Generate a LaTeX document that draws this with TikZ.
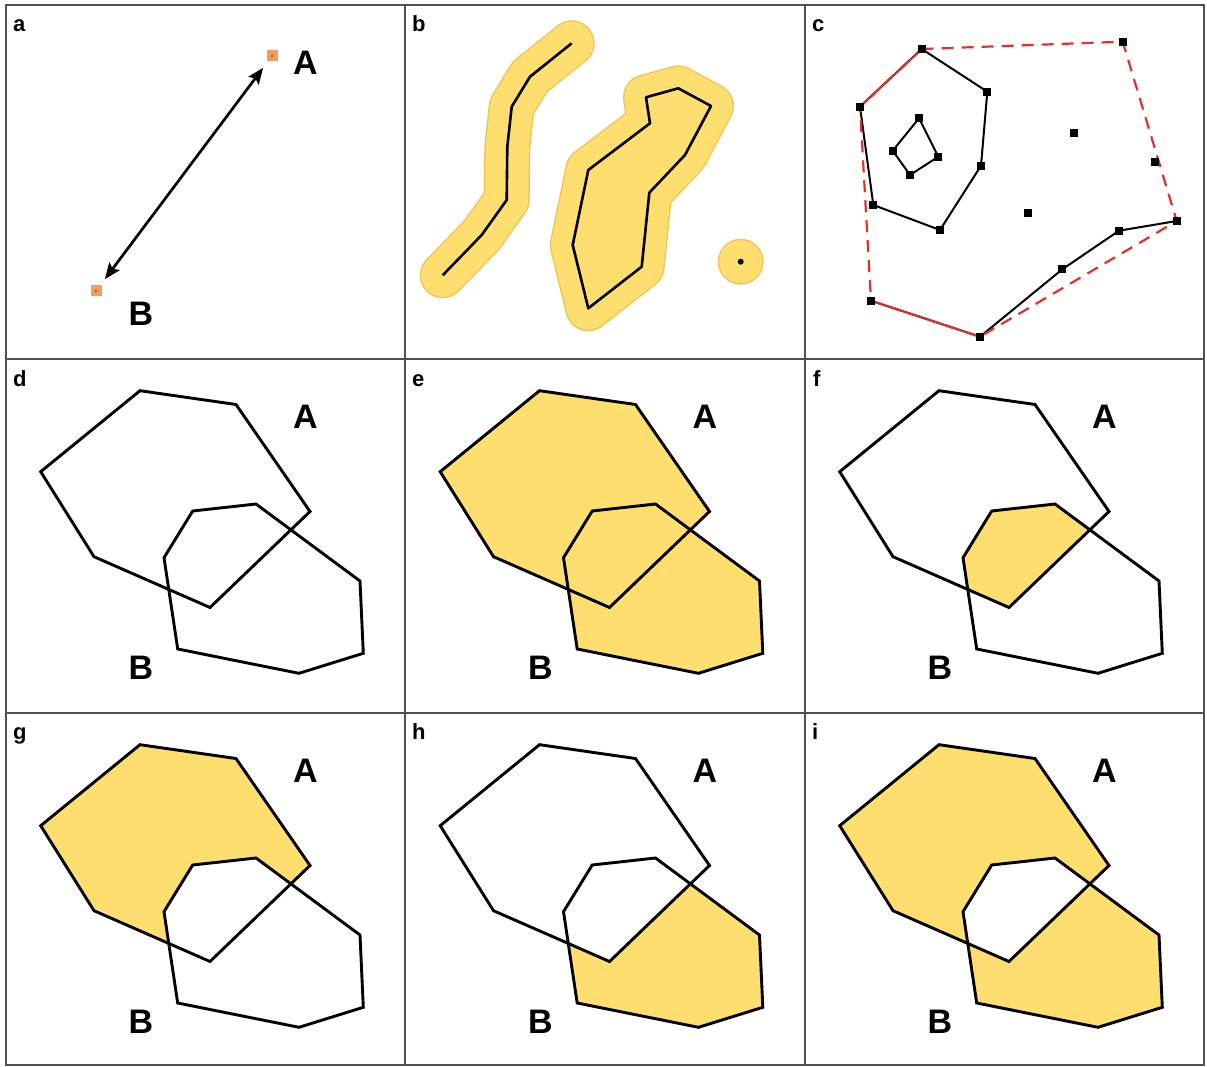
\documentclass[tikz,border=0pt]{standalone}
\usepackage{fontspec}
\setmainfont{Liberation Sans}
\usetikzlibrary{arrows.meta}
\definecolor{ylw}{RGB}{254,222,110}
\definecolor{ylwedge}{RGB}{238,198,92}
\definecolor{gridc}{RGB}{80,80,80}
\definecolor{orng}{RGB}{244,155,95}
\definecolor{orngc}{RGB}{205,75,35}
\definecolor{hullred}{RGB}{226,48,42}
\begin{document}
\begin{tikzpicture}[x=1pt,y=-1pt,
  plbl/.style={font=\fontsize{22}{24}\selectfont\bfseries, anchor=base west, inner sep=0pt},
  biglbl/.style={font=\fontsize{34}{36}\selectfont\bfseries, anchor=base, inner sep=0pt},
  poly/.style={draw=black, line width=2.9pt, line join=miter},
  polyA/.style={insert path={(140,36.7) -- (236,50.5) -- (310,157.5) -- (210,253.5) -- (94,202.7) -- (40.7,117.7) -- cycle}},
  polyB/.style={insert path={(192.7,157) -- (256,150) -- (360,227) -- (363.3,299.3) -- (299,319.3) -- (177.7,295) -- (164,203.7) -- cycle}},
  gridline/.style={draw=gridc, line width=2.4pt},
  osq/.style={fill=orng, minimum size=11pt, inner sep=0pt, outer sep=0pt, shape=rectangle},
  bsq/.style={fill=black, minimum size=8pt, inner sep=0pt, shape=rectangle},
  bufedge/.style={draw=ylwedge, line width=46pt, line cap=round, line join=round},
  buf/.style={draw=ylw, line width=43pt, line cap=round, line join=round},
  thinl/.style={draw=black, line width=2pt, line join=round},
  hull/.style={draw=hullred, line width=2.2pt, dash pattern=on 12pt off 8pt}
]
\useasboundingbox (0,0) rectangle (1207,1067);
\fill[white] (0,0) rectangle (1207,1067);

% ---------- panel a ----------
\node[osq] (pa) at (272,56) {};
\node[osq] (pb) at (96,291) {};
\fill[orngc] (pa.center) circle[radius=1.4pt];
\fill[orngc] (pb.center) circle[radius=1.4pt];
\draw[line width=2.7pt, {Stealth[length=16pt,width=13pt,inset=3pt]}-{Stealth[length=16pt,width=13pt,inset=3pt]}, shorten <=8pt, shorten >=8pt] (pa) -- (pb);
\node[biglbl] (aA) at (305.5,74.5) {A};
\node[biglbl] (aB) at (141,325) {B};

% ---------- panel b ----------
\coordinate (b1) at (442.7,275.3);
\coordinate (b2) at (481.7,235);
\coordinate (b3) at (506.7,200);
\coordinate (b4) at (507.3,146.7);
\coordinate (b5) at (511.7,106.7);
\coordinate (b6) at (530,76.7);
\coordinate (b7) at (571.7,43.3);
\coordinate (q1) at (588.3,170);
\coordinate (q2) at (650,123.3);
\coordinate (q3) at (646,97.3);
\coordinate (q4) at (678.3,88.3);
\coordinate (q5) at (711,106);
\coordinate (q6) at (685,155);
\coordinate (q7) at (649.3,192.7);
\coordinate (q8) at (641.7,266.7);
\coordinate (q9) at (588.3,308.3);
\coordinate (q10) at (572.7,245);
\coordinate (bp) at (740.7,261.7);
\draw[bufedge] (b1) -- (b2) -- (b3) -- (b4) -- (b5) -- (b6) -- (b7);
\draw[buf] (b1) -- (b2) -- (b3) -- (b4) -- (b5) -- (b6) -- (b7);
\draw[line width=2.6pt, line join=round] (b1) -- (b2) -- (b3) -- (b4) -- (b5) -- (b6) -- (b7);
\draw[bufedge] (q1) -- (q2) -- (q3) -- (q4) -- (q5) -- (q6) -- (q7) -- (q8) -- (q9) -- (q10) -- cycle;
\draw[buf, fill=ylw] (q1) -- (q2) -- (q3) -- (q4) -- (q5) -- (q6) -- (q7) -- (q8) -- (q9) -- (q10) -- cycle;
\draw[line width=2.6pt, line join=round] (q1) -- (q2) -- (q3) -- (q4) -- (q5) -- (q6) -- (q7) -- (q8) -- (q9) -- (q10) -- cycle;
\fill[ylwedge] (bp) circle[radius=23pt];
\fill[ylw] (bp) circle[radius=21.5pt];
\fill[black] (bp) circle[radius=3pt];

% ---------- panel c ----------
\coordinate (c1) at (921.7,49);
\coordinate (c2) at (1122.7,41.7);
\coordinate (c3) at (987.3,91.7);
\coordinate (c4) at (860,106.7);
\coordinate (c5) at (919,118.3);
\coordinate (c6) at (892.7,150.7);
\coordinate (c7) at (938.3,156.7);
\coordinate (c8) at (910,175);
\coordinate (c9) at (981,165.7);
\coordinate (c10) at (1074,133.3);
\coordinate (c11) at (1155.3,162.3);
\coordinate (c12) at (873.3,205);
\coordinate (c13) at (940,230);
\coordinate (c14) at (1028.3,213.3);
\coordinate (c15) at (1176.7,221);
\coordinate (c16) at (1119,230.7);
\coordinate (c17) at (1062.3,269.3);
\coordinate (c18) at (871,300.7);
\coordinate (c19) at (980,336.7);
\draw[thinl] (c1) -- (c3) -- (c9) -- (c13) -- (c12) -- (c4) -- cycle;
\draw[thinl] (c5) -- (c7) -- (c8) -- (c6) -- cycle;
\draw[thinl] (c18) -- (c19) -- (c17) -- (c16) -- (c15);
\draw[hull] (c1) -- (c2) -- (c15) -- (c19) -- (c18) -- (c4) -- cycle;
\draw[draw=hullred, line width=1.6pt] (c4) -- (c1);
\draw[draw=hullred, line width=1.6pt] (c18) -- (c19);
\foreach \i in {1,...,19} { \node[bsq] (s\i) at (c\i) {}; }

% ---------- panel d ----------
\begin{scope}[shift={(0,354)}]
\draw[poly, polyA];
\draw[poly, polyB];
\node[biglbl] (dA) at (305.5,74.5) {A};
\node[biglbl] (dB) at (141,325) {B};
\end{scope}
% ---------- panel e ----------
\begin{scope}[shift={(399.5,354)}]
\fill[ylw, polyA];
\fill[ylw, polyB];
\draw[poly, polyA];
\draw[poly, polyB];
\node[biglbl] (eA) at (305.5,74.5) {A};
\node[biglbl] (eB) at (141,325) {B};
\end{scope}
% ---------- panel f ----------
\begin{scope}[shift={(799,354)}]
\begin{scope}
\clip[polyA];
\fill[ylw, polyB];
\end{scope}
\draw[poly, polyA];
\draw[poly, polyB];
\node[biglbl] (fA) at (305.5,74.5) {A};
\node[biglbl] (fB) at (141,325) {B};
\end{scope}
% ---------- panel g ----------
\begin{scope}[shift={(0,708)}]
\fill[ylw, polyA];
\fill[white, polyB];
\draw[poly, polyA];
\draw[poly, polyB];
\node[biglbl] (gA) at (305.5,74.5) {A};
\node[biglbl] (gB) at (141,325) {B};
\end{scope}
% ---------- panel h ----------
\begin{scope}[shift={(399.5,708)}]
\fill[ylw, polyB];
\fill[white, polyA];
\draw[poly, polyA];
\draw[poly, polyB];
\node[biglbl] (hA) at (305.5,74.5) {A};
\node[biglbl] (hB) at (141,325) {B};
\end{scope}
% ---------- panel i ----------
\begin{scope}[shift={(799,708)}]
\fill[ylw, even odd rule, polyA, polyB];
\draw[poly, polyA];
\draw[poly, polyB];
\node[biglbl] (iA) at (305.5,74.5) {A};
\node[biglbl] (iB) at (141,325) {B};
\end{scope}

% ---------- grid ----------
\draw[gridline] (6,5) rectangle (1204,1065);
\draw[gridline] (405,5) -- (405,1065);
\draw[gridline] (805,5) -- (805,1065);
\draw[gridline] (6,359) -- (1204,359);
\draw[gridline] (6,713) -- (1204,713);

% ---------- panel letters ----------
\node[plbl] (la) at (13,32) {a};
\node[plbl] (lb) at (412,32) {b};
\node[plbl] (lc) at (812,32) {c};
\node[plbl] (ld) at (13,386) {d};
\node[plbl] (le) at (412,386) {e};
\node[plbl] (lf) at (813,386) {f};
\node[plbl] (lg) at (13,739) {g};
\node[plbl] (lh) at (412,739) {h};
\node[plbl] (li) at (812,739) {i};
\end{tikzpicture}
\end{document}
